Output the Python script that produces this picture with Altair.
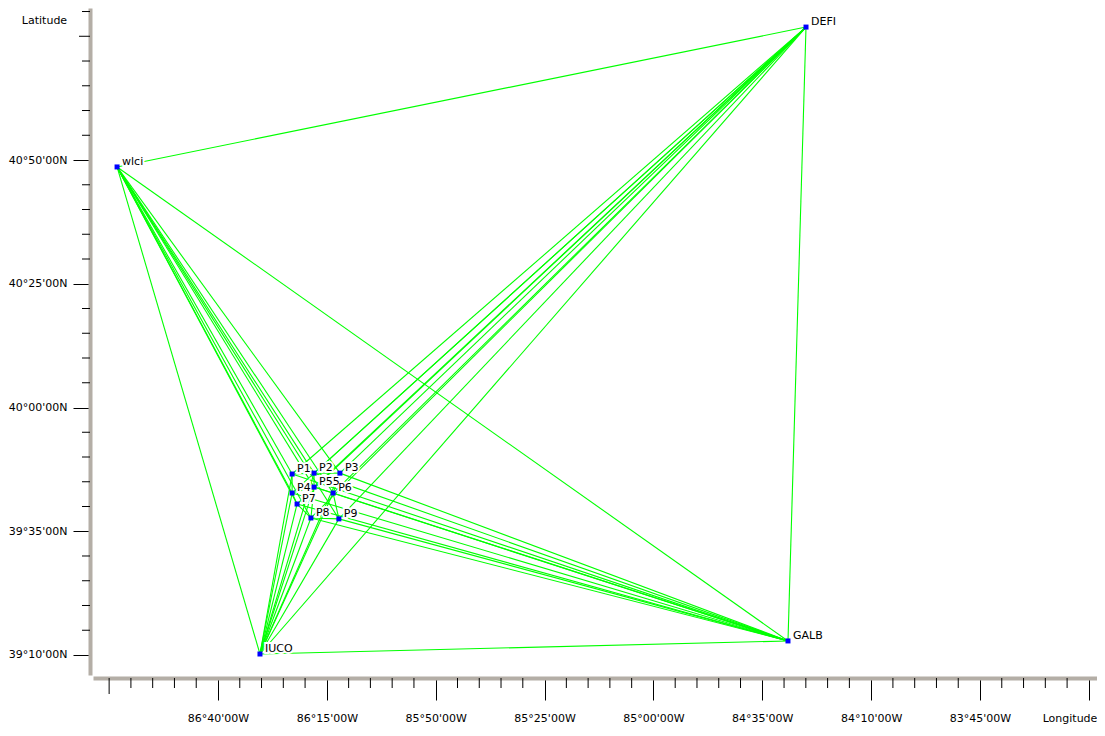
import altair as alt
import pandas as pd

# ---- stations (decimal degrees, west negative) ----
names = ["DEFI", "wlci", "IUCO", "GALB", "P1", "P2", "P3", "P4", "P55", "P6", "P7", "P8", "P9"]
lons = [-84.416, -87.053, -86.506, -84.485, -86.383, -86.299, -86.200, -86.383, -86.299, -86.226, -86.364, -86.311, -86.204]
lats = [41.281, 40.810, 39.170, 39.214, 39.776, 39.779, 39.779, 39.712, 39.732, 39.712, 39.675, 39.628, 39.625]

# ---- baselines ----
refs = ["wlci", "DEFI", "IUCO", "GALB"]
campaign = ["P1", "P2", "P3", "P4", "P55", "P6", "P7", "P8", "P9"]
ref_pairs = [("DEFI", "wlci"), ("DEFI", "GALB"), ("DEFI", "IUCO"), ("wlci", "IUCO"), ("wlci", "GALB"), ("IUCO", "GALB")]
local_pairs = [("P1", "P2"), ("P2", "P3"), ("P1", "P4"), ("P2", "P55"), ("P3", "P6"), ("P4", "P55"),
               ("P55", "P6"), ("P4", "P7"), ("P7", "P8"), ("P8", "P9"), ("P6", "P9"), ("P55", "P8")]

# ---- axis ticks (degrees, minutes) ----
lat_major = [(39, 10), (39, 35), (40, 0), (40, 25), (40, 50)]
lat_medium = [(41, 15)]
lon_major = [(86, 40), (86, 15), (85, 50), (85, 25), (85, 0), (84, 35), (84, 10), (83, 45), (83, 20)]
lon_medium = [(87, 5)]

def dm(d, m):
    return d + m / 60.0

lat_major_v = [dm(d, m) for d, m in lat_major]
lat_medium_v = [dm(d, m) for d, m in lat_medium]
lon_major_v = [-dm(d, m) for d, m in lon_major]
lon_medium_v = [-dm(d, m) for d, m in lon_medium]

lat_all = [39 + (15 + 5 * i) / 60.0 for i in range(26)]
lat_minor_v = [v for v in lat_all if all(abs(v - u) > 1e-6 for u in lat_major_v + lat_medium_v)]
lon_all = [-(87 - 5 * i / 60.0) for i in range(45)]
lon_minor_v = [v for v in lon_all if all(abs(v - u) > 1e-6 for u in lon_major_v + lon_medium_v)]

LAT_DOMAIN = [39.0993, 41.3452]
LON_DOMAIN = [-87.1451, -83.3022]
W, H = 1004, 667
FONT = "DejaVu Sans"

pos = {n: (x, y) for n, x, y in zip(names, lons, lats)}
edges = ref_pairs + [(p, r) for p in campaign for r in refs] + local_pairs
edges_df = pd.DataFrame({
    "lon": [pos[a][0] for a, b in edges],
    "lat": [pos[a][1] for a, b in edges],
    "lon2": [pos[b][0] for a, b in edges],
    "lat2": [pos[b][1] for a, b in edges],
})
st_df = pd.DataFrame({"name": names, "lon": lons, "lat": lats})

xs = alt.Scale(domain=LON_DOMAIN, nice=False, zero=False)
ys = alt.Scale(domain=LAT_DOMAIN, nice=False, zero=False)

lat_expr = ("floor(datum.value+1e-6) + '°' + "
            "(round((datum.value - floor(datum.value+1e-6))*60) < 10 ? '0' : '') + "
            "round((datum.value - floor(datum.value+1e-6))*60) + \"'00N\"")
lon_expr = ("abs(datum.value) < 83.4 ? 'Longitude' : "
            "floor(abs(datum.value)+1e-6) + '°' + "
            "(round((abs(datum.value) - floor(abs(datum.value)+1e-6))*60) < 10 ? '0' : '') + "
            "round((abs(datum.value) - floor(abs(datum.value)+1e-6))*60) + \"'00W\"")
is_lon_title = "abs(datum.value) < 83.4"

x_axis = alt.Axis(values=lon_major_v, labelExpr=lon_expr, orient="bottom", offset=3,
                  tickSize=22, tickColor="black", tickWidth=1,
                  domainColor="#b4aea6", domainWidth=4, labelPadding=12,
                  labelFont=FONT, labelFontSize=11, labelColor="black",
                  labelAlign={"condition": {"test": is_lon_title, "value": "right"}, "value": "center"},
                  labelOffset={"condition": {"test": is_lon_title, "value": 8}, "value": 0},
                  labelFlush=False, labelOverlap=False, labelBound=False,
                  grid=False, title=None)
y_axis = alt.Axis(values=lat_major_v, labelExpr=lat_expr, orient="left", offset=3,
                  tickSize=17, tickColor="black", tickWidth=1,
                  domainColor="#b4aea6", domainWidth=4, labelPadding=6,
                  labelFont=FONT, labelFontSize=11, labelColor="black",
                  labelFlush=False, labelOverlap=False, labelBound=False,
                  grid=False, title="Latitude", titleAngle=0, titleX=-46, titleY=12,
                  titleAlign="center", titleBaseline="middle", titleFont=FONT,
                  titleFontSize=11, titleFontWeight="normal", titleColor="black")

X = alt.X("lon:Q", scale=xs, axis=x_axis)
Y = alt.Y("lat:Q", scale=ys, axis=y_axis)

lines = alt.Chart(edges_df).mark_rule(color="#00ff00", strokeWidth=1.1).encode(
    x=X, y=Y, x2="lon2:Q", y2="lat2:Q")

halo = alt.Chart(st_df).mark_text(align="left", baseline="middle", dx=5, dy=-5, font=FONT,
                                  fontSize=11, color="white", stroke="white", strokeWidth=4).encode(
    x=X, y=Y, text="name:N")
labels = alt.Chart(st_df).mark_text(align="left", baseline="middle", dx=5, dy=-5, font=FONT,
                                    fontSize=11, color="black").encode(
    x=X, y=Y, text="name:N")
points = alt.Chart(st_df).mark_square(size=25, color="#0000ff", opacity=1).encode(x=X, y=Y)

ymin = alt.Chart(pd.DataFrame({"lat": lat_minor_v})).mark_rule(color="black", strokeWidth=1).encode(
    y=Y, x=alt.value(-3), x2=alt.value(-11))
ymed = alt.Chart(pd.DataFrame({"lat": lat_medium_v})).mark_rule(color="black", strokeWidth=1).encode(
    y=Y, x=alt.value(-3), x2=alt.value(-14))
xmin = alt.Chart(pd.DataFrame({"lon": lon_minor_v})).mark_rule(color="black", strokeWidth=1).encode(
    x=X, y=alt.value(H + 3), y2=alt.value(H + 13))
xmed = alt.Chart(pd.DataFrame({"lon": lon_medium_v})).mark_rule(color="black", strokeWidth=1).encode(
    x=X, y=alt.value(H + 3), y2=alt.value(H + 19))

chart = alt.layer(lines, halo, labels, points, ymin, ymed, xmin, xmed).properties(
    width=W, height=H,
    autosize=alt.AutoSizeParams(type="none"),
    padding={"left": 85, "top": 0, "right": 0, "bottom": 60},
    background="white",
).configure_view(stroke=None)

chart.save("out.html", embed_options={"renderer": "svg", "actions": False})
